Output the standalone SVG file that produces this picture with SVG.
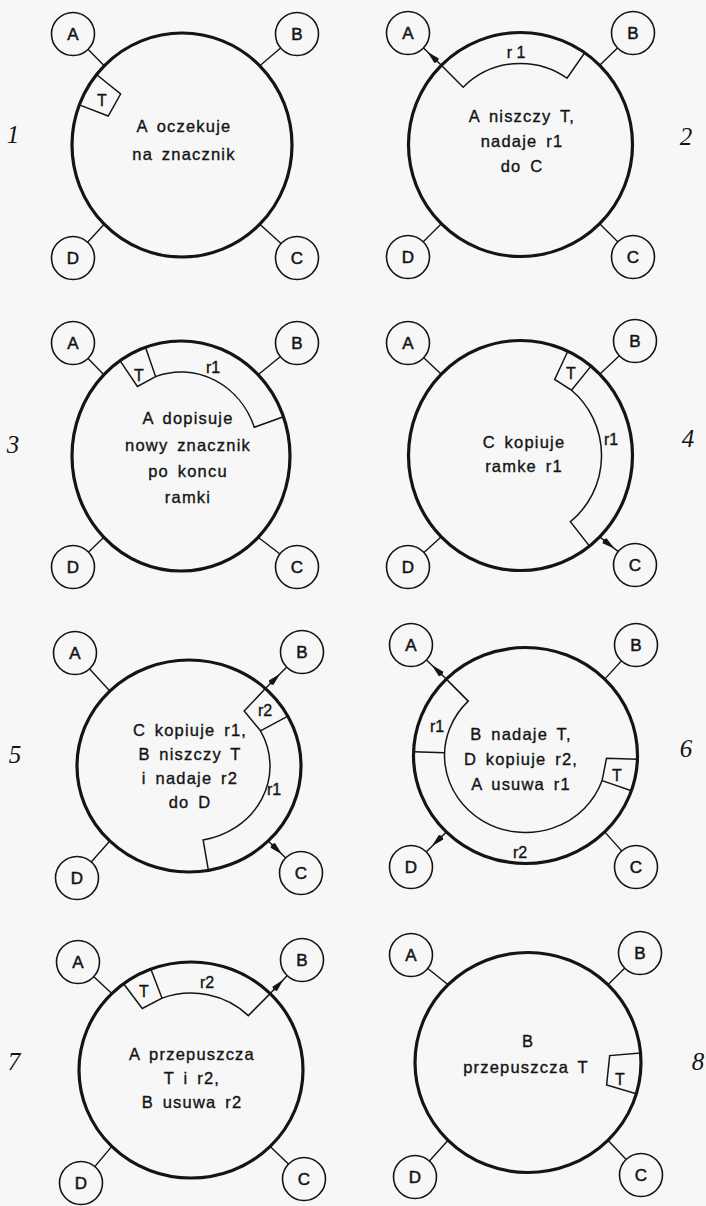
<svg xmlns="http://www.w3.org/2000/svg" width="706" height="1206" viewBox="0 0 706 1206">
<defs>
<style>
.bg{fill:#f7f7f7}
.ring{fill:#f7f7f7;stroke:#141414;stroke-width:3.2}
.fr{fill:none;stroke:#141414;stroke-width:1.5}
.st{fill:#f7f7f7;stroke:#141414;stroke-width:1.6}
.cn{fill:none;stroke:#141414;stroke-width:1.4}
.t{font-family:"Liberation Sans",Arial,sans-serif;font-size:16.5px;letter-spacing:1.2px;word-spacing:3px;fill:#141414;stroke:#141414;stroke-width:0.35px;text-anchor:middle}
.fl{font-family:"Liberation Sans",Arial,sans-serif;font-size:16px;fill:#141414;stroke:#141414;stroke-width:0.35px;text-anchor:middle}
.sl{font-family:"Liberation Sans",Arial,sans-serif;font-size:17px;fill:#141414;stroke:#141414;stroke-width:0.5px;text-anchor:middle}
.n{font-family:"Liberation Serif",serif;font-style:italic;font-size:25px;fill:#141414;text-anchor:middle}
</style>
<marker id="arr" markerUnits="userSpaceOnUse" markerWidth="16" markerHeight="9" viewBox="-8 -4.5 16 9" refX="0" refY="0" orient="auto">
<path d="M7,0 L-6,-3.2 L-7.5,0 L-6,3.2 Z" fill="#141414"/>
</marker>
</defs>
<rect class="bg" x="0" y="0" width="706" height="1206"/>

<g id="panel1">
<ellipse class="ring" cx="182" cy="145" rx="110" ry="112"/>
<path class="fr" d="M79.3,104.9 L108.2,116 L120.6,94 L96.5,74.5"/>
<text class="fl" x="102" y="106">T</text>
<text class="t" x="184" y="132">A oczekuje</text>
<text class="t" x="184" y="160">na znacznik</text>
<text class="n" x="13" y="143">1</text>
</g>

<g id="panel2">
<ellipse class="ring" cx="520.5" cy="144.5" rx="112" ry="112"/>
<path class="fr" d="M441.3,65.3 L463.2,87.2 A81,81 0 0 1 567,78.1 L584.7,52.8"/>
<text class="fl" x="516" y="58" xml:space="preserve">r 1</text>
<text class="t" x="522" y="122">A niszczy T,</text>
<text class="t" x="522" y="147">nadaje r1</text>
<text class="t" x="522" y="172">do C</text>
<text class="n" x="686" y="145">2</text>
</g>

<g id="panel3">
<ellipse class="ring" cx="181" cy="456" rx="109" ry="115"/>
<path class="fr" d="M120,360.7 L137.4,386.4 L155.6,376.6 L145.5,347.3"/>
<path class="fr" d="M155.6,376.6 A78,84 0 0 1 254.3,427.3 L283.4,416.7"/>
<text class="fl" x="139" y="381">T</text>
<text class="fl" x="213" y="373">r1</text>
<text class="t" x="188" y="424">A dopisuje</text>
<text class="t" x="188" y="451">nowy znacznik</text>
<text class="t" x="188" y="477">po koncu</text>
<text class="t" x="188" y="503">ramki</text>
<text class="n" x="13" y="453">3</text>
</g>

<g id="panel4">
<ellipse class="ring" cx="520.5" cy="455.5" rx="112" ry="115"/>
<path class="fr" d="M567.8,351.3 L554.7,379.4 L571.5,390.2 L591,366.1"/>
<path class="fr" d="M571.5,390.2 A81,84 0 0 1 570.4,521.7 L589.5,546.1"/>
<text class="fl" x="571" y="379">T</text>
<text class="fl" x="611" y="445">r1</text>
<text class="t" x="524" y="448">C kopiuje</text>
<text class="t" x="524" y="472">ramke r1</text>
<text class="n" x="688" y="447">4</text>
</g>

<g id="panel5">
<ellipse class="ring" cx="189" cy="766" rx="112" ry="106"/>
<path class="fr" d="M265.4,688.5 L244.2,711.1 L260.5,730.8 L287.9,716.2"/>
<path class="fr" d="M260.5,730.8 A81,75 0 0 1 203.1,839.9 L208.4,870.4"/>
<text class="fl" x="265" y="716">r2</text>
<text class="fl" x="274" y="795">r1</text>
<text class="t" x="190" y="736">C kopiuje r1,</text>
<text class="t" x="190" y="760">B niszczy T</text>
<text class="t" x="190" y="784">i nadaje r2</text>
<text class="t" x="190" y="808">do D</text>
<text class="n" x="15" y="763">5</text>
</g>

<g id="panel6">
<ellipse class="ring" cx="525.5" cy="755.5" rx="112" ry="108"/>
<path class="fr" d="M446.3,679.1 L468.2,701.1 A81,77 0 1 0 602.1,780.6 L606.5,758.2 L637.4,759.3"/>
<path class="fr" d="M602.1,780.6 L631.4,790.7"/>
<path class="fr" d="M413.6,751.7 L444.5,752.8"/>
<text class="fl" x="437" y="732">r1</text>
<text class="fl" x="520" y="858">r2</text>
<text class="fl" x="617" y="781">T</text>
<text class="t" x="521" y="740">B nadaje T,</text>
<text class="t" x="521" y="765">D kopiuje r2,</text>
<text class="t" x="521" y="790">A usuwa r1</text>
<text class="n" x="686" y="757">6</text>
</g>

<g id="panel7">
<ellipse class="ring" cx="191" cy="1070" rx="112" ry="108"/>
<path class="fr" d="M123.6,983.8 L142.3,1008.5 L162,998.1 L150.9,969.2"/>
<path class="fr" d="M162,998.1 A81,77 0 0 1 248.3,1015.6 L270.2,993.6"/>
<text class="fl" x="144" y="997">T</text>
<text class="fl" x="207" y="988">r2</text>
<text class="t" x="192" y="1060">A przepuszcza</text>
<text class="t" x="192" y="1084">T i r2,</text>
<text class="t" x="192" y="1108">B usuwa r2</text>
<text class="n" x="14" y="1070">7</text>
</g>

<g id="panel8">
<ellipse class="ring" cx="528" cy="1062.5" rx="113" ry="110"/>
<path class="fr" d="M640.6,1052.9 L609.7,1055.6 L606.6,1084.9 L636.3,1093.7"/>
<text class="fl" x="620" y="1085">T</text>
<text class="t" x="528" y="1047">B</text>
<text class="t" x="526" y="1073">przepuszcza T</text>
<text class="n" x="698" y="1070">8</text>
</g>

<g id="connectors">
<path class="cn" d="M73,34 L104.2,65.8"/>
<path class="cn" d="M297,34 L259.8,65.8"/>
<path class="cn" d="M73,258 L104.2,224.2"/>
<path class="cn" d="M297,258 L259.8,224.2"/>

<path class="cn" d="M441.3,65.3 L432.3,56.6 L408,33" marker-mid="url(#arr)"/>
<path class="cn" d="M633,33 L599.7,65.3"/>
<path class="cn" d="M408,257 L441.3,223.7"/>
<path class="cn" d="M633,257 L599.7,223.7"/>

<path class="cn" d="M73,343 L103.9,374.7"/>
<path class="cn" d="M297,343 L258.1,374.7"/>
<path class="cn" d="M73,567 L103.9,537.3"/>
<path class="cn" d="M297,567 L258.1,537.3"/>

<path class="cn" d="M408,343 L441.3,374.2"/>
<path class="cn" d="M635,341 L599.7,374.2"/>
<path class="cn" d="M408,567 L441.3,536.8"/>
<path class="cn" d="M599.7,536.8 L609.2,544.4 L635,565" marker-mid="url(#arr)"/>

<path class="cn" d="M75,653 L109.8,691"/>
<path class="cn" d="M265.4,688.5 L275.3,678.6 L302,652" marker-mid="url(#arr)"/>
<path class="cn" d="M77,878 L109.8,841"/>
<path class="cn" d="M268.2,841 L277.1,849.6 L301,873" marker-mid="url(#arr)"/>

<path class="cn" d="M446.3,679.1 L436.8,669.9 L411,645" marker-mid="url(#arr)"/>
<path class="cn" d="M636,645 L604.7,679.1"/>
<path class="cn" d="M446.3,831.9 L436.8,841.4 L411,867" marker-mid="url(#arr)"/>
<path class="cn" d="M636,867 L604.7,831.9"/>

<path class="cn" d="M78,962 L111.8,993.6"/>
<path class="cn" d="M270.2,993.6 L278.8,984.5 L302,960" marker-mid="url(#arr)"/>
<path class="cn" d="M81,1183 L111.8,1146.4"/>
<path class="cn" d="M304,1179 L270.2,1146.4"/>

<path class="cn" d="M411,955 L448.1,984.7"/>
<path class="cn" d="M640,953 L607.9,984.7"/>
<path class="cn" d="M415,1177 L448.1,1140.3"/>
<path class="cn" d="M641,1175 L607.9,1140.3"/>
</g>

<g id="p1-A"><circle class="st" cx="73" cy="34" r="21.5"/><text class="sl" x="73" y="40">A</text></g>
<g id="p1-B"><circle class="st" cx="297" cy="34" r="21.5"/><text class="sl" x="297" y="40">B</text></g>
<g id="p1-C"><circle class="st" cx="297" cy="258" r="21.5"/><text class="sl" x="297" y="264">C</text></g>
<g id="p1-D"><circle class="st" cx="73" cy="258" r="21.5"/><text class="sl" x="73" y="264">D</text></g>

<g id="p2-A"><circle class="st" cx="408" cy="33" r="21.5"/><text class="sl" x="408" y="39">A</text></g>
<g id="p2-B"><circle class="st" cx="633" cy="33" r="21.5"/><text class="sl" x="633" y="39">B</text></g>
<g id="p2-C"><circle class="st" cx="633" cy="257" r="21.5"/><text class="sl" x="633" y="263">C</text></g>
<g id="p2-D"><circle class="st" cx="408" cy="257" r="21.5"/><text class="sl" x="408" y="263">D</text></g>

<g id="p3-A"><circle class="st" cx="73" cy="343" r="21.5"/><text class="sl" x="73" y="349">A</text></g>
<g id="p3-B"><circle class="st" cx="297" cy="343" r="21.5"/><text class="sl" x="297" y="349">B</text></g>
<g id="p3-C"><circle class="st" cx="297" cy="567" r="21.5"/><text class="sl" x="297" y="573">C</text></g>
<g id="p3-D"><circle class="st" cx="73" cy="567" r="21.5"/><text class="sl" x="73" y="573">D</text></g>

<g id="p4-A"><circle class="st" cx="408" cy="343" r="21.5"/><text class="sl" x="408" y="349">A</text></g>
<g id="p4-B"><circle class="st" cx="635" cy="341" r="21.5"/><text class="sl" x="635" y="347">B</text></g>
<g id="p4-C"><circle class="st" cx="635" cy="565" r="21.5"/><text class="sl" x="635" y="571">C</text></g>
<g id="p4-D"><circle class="st" cx="408" cy="567" r="21.5"/><text class="sl" x="408" y="573">D</text></g>

<g id="p5-A"><circle class="st" cx="75" cy="653" r="21.5"/><text class="sl" x="75" y="659">A</text></g>
<g id="p5-B"><circle class="st" cx="302" cy="652" r="21.5"/><text class="sl" x="302" y="658">B</text></g>
<g id="p5-C"><circle class="st" cx="301" cy="873" r="21.5"/><text class="sl" x="301" y="879">C</text></g>
<g id="p5-D"><circle class="st" cx="77" cy="878" r="21.5"/><text class="sl" x="77" y="884">D</text></g>

<g id="p6-A"><circle class="st" cx="411" cy="645" r="21.5"/><text class="sl" x="411" y="651">A</text></g>
<g id="p6-B"><circle class="st" cx="636" cy="645" r="21.5"/><text class="sl" x="636" y="651">B</text></g>
<g id="p6-C"><circle class="st" cx="636" cy="867" r="21.5"/><text class="sl" x="636" y="873">C</text></g>
<g id="p6-D"><circle class="st" cx="411" cy="867" r="21.5"/><text class="sl" x="411" y="873">D</text></g>

<g id="p7-A"><circle class="st" cx="78" cy="962" r="21.5"/><text class="sl" x="78" y="968">A</text></g>
<g id="p7-B"><circle class="st" cx="302" cy="960" r="21.5"/><text class="sl" x="302" y="966">B</text></g>
<g id="p7-C"><circle class="st" cx="304" cy="1179" r="21.5"/><text class="sl" x="304" y="1185">C</text></g>
<g id="p7-D"><circle class="st" cx="81" cy="1183" r="21.5"/><text class="sl" x="81" y="1189">D</text></g>

<g id="p8-A"><circle class="st" cx="411" cy="955" r="21.5"/><text class="sl" x="411" y="961">A</text></g>
<g id="p8-B"><circle class="st" cx="640" cy="953" r="21.5"/><text class="sl" x="640" y="959">B</text></g>
<g id="p8-C"><circle class="st" cx="641" cy="1175" r="21.5"/><text class="sl" x="641" y="1181">C</text></g>
<g id="p8-D"><circle class="st" cx="415" cy="1177" r="21.5"/><text class="sl" x="415" y="1183">D</text></g>
</svg>
